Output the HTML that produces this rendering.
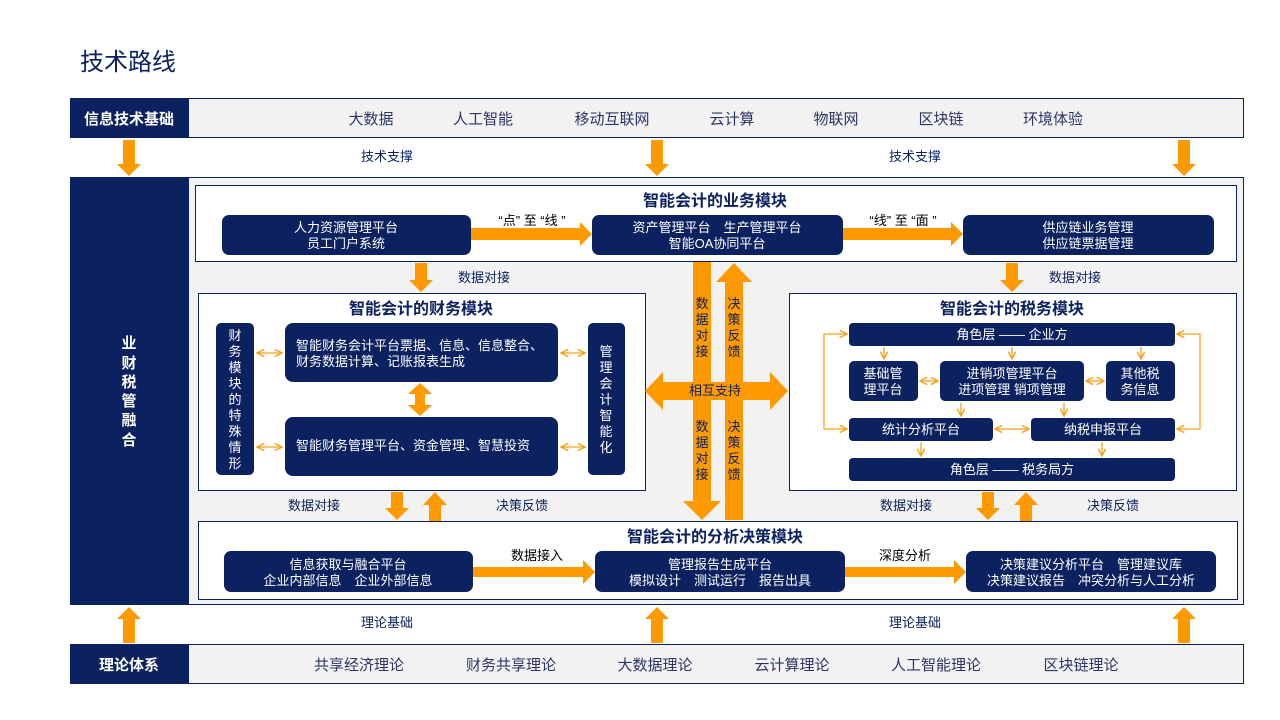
<!DOCTYPE html>
<html><head><meta charset="utf-8">
<style>
html,body{margin:0;padding:0;background:#fff;}
svg{display:block;}
text{font-family:"Liberation Sans","Noto Sans CJK SC",sans-serif;}
</style></head>
<body>
<svg width="1280" height="720" viewBox="0 0 1280 720" xmlns="http://www.w3.org/2000/svg">
<defs>
<marker id="ch" viewBox="0 0 10 10" refX="9" refY="5" markerWidth="7" markerHeight="7" orient="auto-start-reverse">
<path d="M1,1 L9,5 L1,9" fill="none" stroke="#f7a21b" stroke-width="1.6"/>
</marker>
</defs>
<g fill="#0b2160">
<text x="80" y="70" font-size="24">技术路线</text>
</g>

<rect x="70" y="98" width="118" height="40" fill="#0b2160"/>
<rect x="188.5" y="98.5" width="1055" height="39" fill="#f2f2f2" stroke="#0b2160"/>
<text x="129" y="124" font-size="15" font-weight="bold" fill="#fff" text-anchor="middle">信息技术基础</text>
<g font-size="15" fill="#2a3566" text-anchor="middle">
<text x="371" y="124">大数据</text><text x="483" y="124">人工智能</text><text x="612" y="124">移动互联网</text>
<text x="732" y="124">云计算</text><text x="836" y="124">物联网</text><text x="941" y="124">区块链</text><text x="1053" y="124">环境体验</text>
</g>
<g fill="#ff9900">
<polygon points="123,140 135,140 135,164 141,164 129,176 117,164 123,164"/>
<polygon points="651,140 663,140 663,164 669,164 657,176 645,164 651,164"/>
<polygon points="1178,140 1190,140 1190,164 1196,164 1184,176 1172,164 1178,164"/>
</g>
<g font-size="13" fill="#0b2160" text-anchor="middle">
<text x="387" y="161">技术支撑</text><text x="915" y="161">技术支撑</text>
</g>

<rect x="70" y="177" width="118" height="428" fill="#0b2160"/>
<rect x="188.5" y="177.5" width="1055" height="427" fill="#f2f2f2" stroke="#0b2160"/>
<g font-size="15" font-weight="bold" fill="#fff" text-anchor="middle">
<text x="129" y="348">业</text><text x="129" y="368">财</text><text x="129" y="387">税</text>
<text x="129" y="406">管</text><text x="129" y="425">融</text><text x="129" y="445">合</text>
</g>

<rect x="195.5" y="185.5" width="1041" height="76" fill="#fff" stroke="#0b2160"/>
<text x="715" y="206" font-size="16" font-weight="bold" fill="#0b2160" text-anchor="middle">智能会计的业务模块</text>
<g fill="#0b2160">
<rect x="222" y="215" width="249" height="40" rx="7"/>
<rect x="592" y="215" width="251" height="40" rx="7"/>
<rect x="963" y="215" width="251" height="40" rx="7"/>
</g>
<g font-size="13" fill="#fff" text-anchor="middle">
<text x="346" y="232">人力资源管理平台</text><text x="346" y="248">员工门户系统</text>
<text x="717" y="232">资产管理平台　生产管理平台</text><text x="717" y="248">智能OA协同平台</text>
<text x="1088" y="232">供应链业务管理</text><text x="1088" y="248">供应链票据管理</text>
</g>
<g fill="#ff9900">
<polygon points="471,228 580,228 580,222 592,234 580,246 580,240 471,240"/>
<polygon points="843,228 951,228 951,222 963,234 951,246 951,240 843,240"/>
</g>
<g font-size="13" fill="#000" text-anchor="middle" xml:space="preserve">
<text x="532" y="225">“点” 至 “线 ”</text><text x="903" y="225">“线” 至 “面 ”</text>
</g>

<g fill="#ff9900">
<polygon points="415,263 427,263 427,280 433,280 421,292 409,280 415,280"/>
<polygon points="1006,263 1018,263 1018,280 1024,280 1012,292 1000,280 1006,280"/>
</g>
<g font-size="13" fill="#0b2160" text-anchor="middle">
<text x="484" y="282">数据对接</text><text x="1075" y="282">数据对接</text>
</g>

<rect x="198.5" y="293.5" width="447" height="197" fill="#fff" stroke="#0b2160"/>
<text x="421" y="314" font-size="16" font-weight="bold" fill="#0b2160" text-anchor="middle">智能会计的财务模块</text>
<g fill="#0b2160">
<rect x="216" y="323" width="38" height="152" rx="5"/>
<rect x="285" y="323" width="273" height="59" rx="8"/>
<rect x="285" y="417" width="273" height="59" rx="8"/>
<rect x="588" y="323" width="37" height="152" rx="5"/>
</g>
<g font-size="13" fill="#fff" text-anchor="middle">
<text x="235" y="340">财</text><text x="235" y="356">务</text><text x="235" y="372">模</text><text x="235" y="388">块</text>
<text x="235" y="404">的</text><text x="235" y="420">特</text><text x="235" y="436">殊</text><text x="235" y="452">情</text><text x="235" y="468">形</text>
<text x="606" y="356">管</text><text x="606" y="372">理</text><text x="606" y="388">会</text><text x="606" y="404">计</text>
<text x="606" y="420">智</text><text x="606" y="436">能</text><text x="606" y="452">化</text>
</g>
<g font-size="13" fill="#fff">
<text x="296" y="350">智能财务会计平台票据、信息、信息整合、</text>
<text x="296" y="366">财务数据计算、记账报表生成</text>
<text x="296" y="450">智能财务管理平台、资金管理、智慧投资</text>
</g>
<g stroke="#f7a21b" stroke-width="1.3" marker-start="url(#ch)" marker-end="url(#ch)">
<line x1="257" y1="353" x2="282" y2="353"/>
<line x1="257" y1="447" x2="282" y2="447"/>
<line x1="561" y1="353" x2="585" y2="353"/>
<line x1="561" y1="447" x2="585" y2="447"/>
</g>
<polygon fill="#ff9900" points="420,383 432,394 425,394 425,405 432,405 420,416 408,405 415,405 415,394 408,394"/>

<rect x="789.5" y="293.5" width="447" height="197" fill="#fff" stroke="#0b2160"/>
<text x="1012" y="314" font-size="16" font-weight="bold" fill="#0b2160" text-anchor="middle">智能会计的税务模块</text>
<g fill="#0b2160">
<rect x="849" y="323" width="326" height="23" rx="4"/>
<rect x="849" y="361" width="69" height="40" rx="5"/>
<rect x="940" y="361" width="144" height="40" rx="5"/>
<rect x="1106" y="361" width="69" height="40" rx="5"/>
<rect x="849" y="418" width="144" height="23" rx="4"/>
<rect x="1031" y="418" width="144" height="23" rx="4"/>
<rect x="849" y="458" width="326" height="23" rx="4"/>
</g>
<g font-size="13" fill="#fff" text-anchor="middle">
<text x="1012" y="339">角色层 —— 企业方</text>
<text x="883" y="378">基础管</text><text x="883" y="394">理平台</text>
<text x="1012" y="378">进销项管理平台</text><text x="1012" y="394">进项管理  销项管理</text>
<text x="1140" y="378">其他税</text><text x="1140" y="394">务信息</text>
<text x="921" y="434">统计分析平台</text>
<text x="1103" y="434">纳税申报平台</text>
<text x="1012" y="474">角色层 —— 税务局方</text>
</g>
<g stroke="#f7a21b" stroke-width="1.3" fill="none">
<line x1="884" y1="347" x2="884" y2="359" marker-end="url(#ch)"/>
<line x1="1012" y1="347" x2="1012" y2="359" marker-end="url(#ch)"/>
<line x1="1141" y1="347" x2="1141" y2="359" marker-end="url(#ch)"/>
<line x1="961" y1="403" x2="961" y2="416" marker-end="url(#ch)"/>
<line x1="1064" y1="403" x2="1064" y2="416" marker-end="url(#ch)"/>
<line x1="921" y1="442" x2="921" y2="456" marker-end="url(#ch)"/>
<line x1="1102" y1="442" x2="1102" y2="456" marker-end="url(#ch)"/>
<line x1="920" y1="381" x2="938" y2="381" marker-start="url(#ch)" marker-end="url(#ch)"/>
<line x1="1086" y1="381" x2="1104" y2="381" marker-start="url(#ch)" marker-end="url(#ch)"/>
<line x1="995" y1="429" x2="1029" y2="429" marker-start="url(#ch)" marker-end="url(#ch)"/>
<polyline points="847,334 824,334 824,429 847,429" marker-start="url(#ch)" marker-end="url(#ch)"/>
<polyline points="1177,334 1200,334 1200,429 1177,429" marker-start="url(#ch)" marker-end="url(#ch)"/>
</g>

<g fill="#ff9900">
<polygon points="693,262 711,262 711,501 721,501 702,520 683,501 693,501"/>
<polygon points="725,520 743,520 743,282 752,282 734,263 716,282 725,282"/>
<polygon points="645,391 663,372 663,382 770,382 770,372 788,391 770,410 770,400 663,400 663,410"/>
</g>
<g font-size="13" fill="#0b2160" text-anchor="middle">
<text x="702" y="308">数</text><text x="702" y="324">据</text><text x="702" y="340">对</text><text x="702" y="356">接</text>
<text x="734" y="308">决</text><text x="734" y="324">策</text><text x="734" y="340">反</text><text x="734" y="356">馈</text>
<text x="715" y="395">相互支持</text>
<text x="702" y="431">数</text><text x="702" y="447">据</text><text x="702" y="463">对</text><text x="702" y="479">接</text>
<text x="734" y="431">决</text><text x="734" y="447">策</text><text x="734" y="463">反</text><text x="734" y="479">馈</text>
</g>

<g fill="#ff9900">
<polygon points="391,492 403,492 403,508 409,508 397,520 385,508 391,508"/>
<polygon points="429,521 441,521 441,505 447,505 435,492 423,505 429,505"/>
<polygon points="982,492 994,492 994,508 1000,508 988,520 976,508 982,508"/>
<polygon points="1020,521 1032,521 1032,505 1038,505 1026,492 1014,505 1020,505"/>
</g>
<g font-size="13" fill="#0b2160" text-anchor="middle">
<text x="314" y="510">数据对接</text><text x="522" y="510">决策反馈</text>
<text x="906" y="510">数据对接</text><text x="1113" y="510">决策反馈</text>
</g>

<rect x="198.5" y="521.5" width="1039" height="78" fill="#fff" stroke="#0b2160"/>
<text x="715" y="542" font-size="16" font-weight="bold" fill="#0b2160" text-anchor="middle">智能会计的分析决策模块</text>
<g fill="#0b2160">
<rect x="224" y="551" width="249" height="41" rx="7"/>
<rect x="595" y="551" width="250" height="41" rx="7"/>
<rect x="966" y="551" width="250" height="41" rx="7"/>
</g>
<g font-size="13" fill="#fff" text-anchor="middle">
<text x="348" y="569">信息获取与融合平台</text><text x="348" y="585">企业内部信息　企业外部信息</text>
<text x="720" y="569">管理报告生成平台</text><text x="720" y="585">模拟设计　测试运行　报告出具</text>
<text x="1091" y="569">决策建议分析平台　管理建议库</text><text x="1091" y="585">决策建议报告　冲突分析与人工分析</text>
</g>
<g fill="#ff9900">
<polygon points="473,567 583,567 583,560 595,572 583,584 583,577 473,577"/>
<polygon points="845,567 954,567 954,560 966,572 954,584 954,577 845,577"/>
</g>
<g font-size="13" fill="#000" text-anchor="middle">
<text x="537" y="560">数据接入</text><text x="905" y="560">深度分析</text>
</g>

<g fill="#ff9900">
<polygon points="123,643 135,643 135,619 141,619 129,607 117,619 123,619"/>
<polygon points="651,643 663,643 663,619 669,619 657,607 645,619 651,619"/>
<polygon points="1178,643 1190,643 1190,619 1196,619 1184,607 1172,619 1178,619"/>
</g>
<g font-size="13" fill="#0b2160" text-anchor="middle">
<text x="387" y="627">理论基础</text><text x="915" y="627">理论基础</text>
</g>

<rect x="70" y="644" width="118" height="40" fill="#0b2160"/>
<rect x="188.5" y="644.5" width="1055" height="39" fill="#f2f2f2" stroke="#0b2160"/>
<text x="129" y="670" font-size="15" font-weight="bold" fill="#fff" text-anchor="middle">理论体系</text>
<g font-size="15" fill="#2a3566" text-anchor="middle">
<text x="359" y="670">共享经济理论</text><text x="511" y="670">财务共享理论</text><text x="655" y="670">大数据理论</text>
<text x="792" y="670">云计算理论</text><text x="936" y="670">人工智能理论</text><text x="1081" y="670">区块链理论</text>
</g>
</svg>
</body></html>
